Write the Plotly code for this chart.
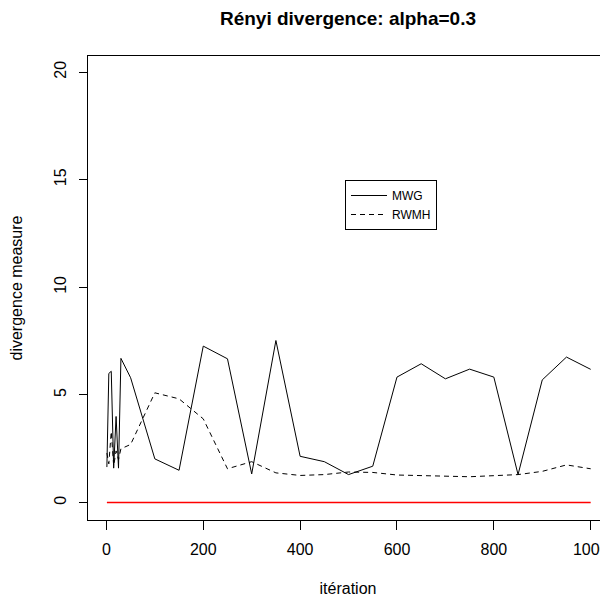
import plotly.graph_objects as go

iterations = [1, 5, 10, 15, 20, 25, 30, 50, 100, 150, 200, 250, 300, 350, 400, 450,
              500, 550, 600, 650, 700, 750, 800, 850, 900, 950, 1000]
mwg = [1.65, 6.0, 6.1, 1.6, 4.0, 1.6, 6.7, 5.8, 2.03, 1.5, 7.27, 6.68, 1.33, 7.53,
       2.15, 1.9, 1.3, 1.69, 5.83, 6.45, 5.75, 6.2, 5.83, 1.3, 5.7, 6.76, 6.19]
rwmh = [2.3, 1.8, 3.3, 1.7, 2.4, 2.0, 2.5, 2.7, 5.1, 4.82, 3.89, 1.57, 1.9, 1.38,
        1.26, 1.3, 1.42, 1.4, 1.28, 1.25, 1.25, 1.2, 1.25, 1.3, 1.45, 1.75, 1.57]
reference = [0.0] * len(iterations)

x_ticks = [0, 200, 400, 600, 800, 1000]
y_ticks = [0, 5, 10, 15, 20]

font = "Liberation Sans, Arial, sans-serif"

# page body has an 8px margin; figure is sized so it ends at the window edge
W, H = 600, 589
L, T, B = 80, 48, 77          # plot area: x 80..600, y 48..512 (figure coords)
PW, PH = W - L, H - T - B

fig = go.Figure()
fig.add_trace(go.Scatter(x=iterations, y=mwg, mode="lines", name="MWG",
                         line=dict(color="black", width=1)))
fig.add_trace(go.Scatter(x=iterations, y=rwmh, mode="lines", name="RWMH",
                         line=dict(color="black", width=1, dash="5px,4px")))
fig.add_trace(go.Scatter(x=iterations, y=reference, mode="lines", showlegend=False,
                         line=dict(color="red", width=1.5)))

fig.update_layout(
    width=W, height=H,
    paper_bgcolor="white", plot_bgcolor="white",
    margin=dict(l=L, r=0, t=T, b=B, autoexpand=False),
    font=dict(family=font, size=16, color="black"),
    title=dict(text="<b>Rényi divergence: alpha=0.3</b>", x=340 / W, xanchor="center",
               y=1 - 10 / H, yanchor="middle", font=dict(size=19, color="black")),
    showlegend=True,
    legend=dict(x=(337 - L) / PW, y=(512 - 172) / PH, xanchor="left", yanchor="top",
                bordercolor="black", borderwidth=1, bgcolor="white",
                font=dict(size=12, color="black"), itemwidth=36,
                tracegroupgap=0),
    xaxis=dict(range=[-38, 1000 + (600 - 582.7) / 0.484], tickvals=x_ticks,
               ticktext=[str(v) for v in x_ticks],
               showgrid=False, zeroline=False, showline=True, linecolor="black",
               linewidth=1, mirror=True, ticks="outside", ticklen=9, tickcolor="black",
               tickfont=dict(size=16), ticklabelstandoff=6, automargin=False,
               ticklabeloverflow="allow",
               title=dict(text="itération", font=dict(size=16), standoff=25)),
    yaxis=dict(range=[-0.81, 20.75], tickvals=y_ticks,
               ticktext=[str(v) for v in y_ticks],
               showgrid=False, zeroline=False, showline=True, linecolor="black",
               linewidth=1, mirror=False, ticks="outside", ticklen=8, tickcolor="black",
               tickangle=-90, tickfont=dict(size=16), ticklabelstandoff=7, automargin=False,
               title=dict(text="divergence measure", font=dict(size=16), standoff=27)),
)

fig.write_html("out.html")
